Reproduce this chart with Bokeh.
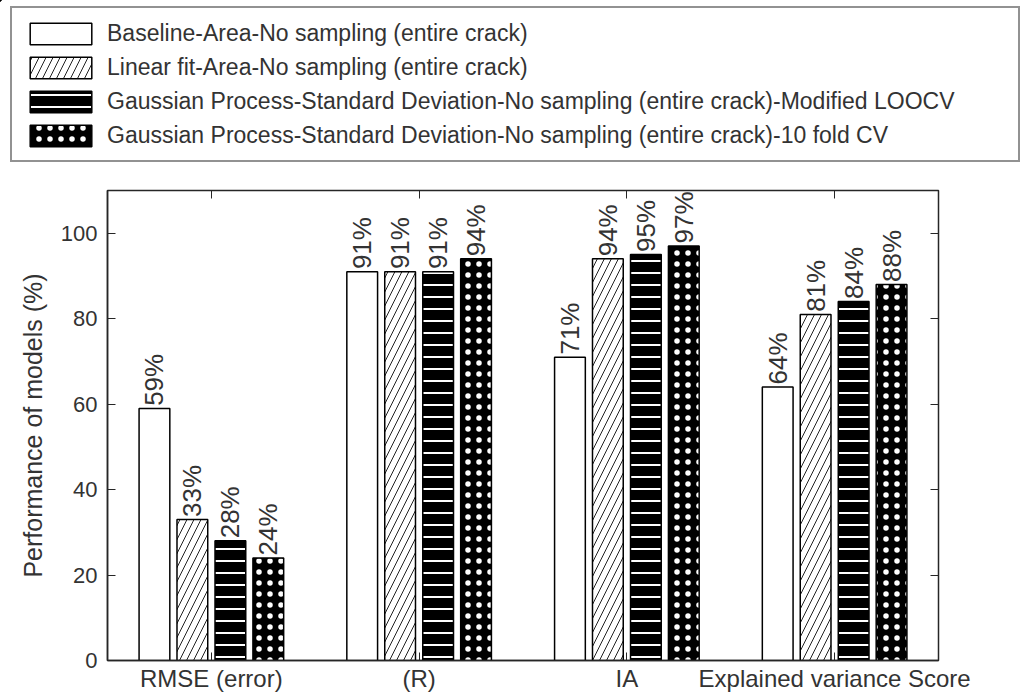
import numpy as np
from bokeh.plotting import figure
from bokeh.layouts import column, row
from bokeh.models import Range1d, LinearAxis, FixedTicker, Legend, LegendItem, ColumnDataSource
from bokeh.core.properties import value
from bokeh.embed import file_html
from bokeh.resources import INLINE

# ---------------- data ----------------
categories = ["RMSE (error)", "(R)", "IA", "Explained variance Score"]
series_names = [
    "Baseline-Area-No sampling (entire crack)",
    "Linear fit-Area-No sampling (entire crack)",
    "Gaussian Process-Standard Deviation-No sampling (entire crack)-Modified LOOCV",
    "Gaussian Process-Standard Deviation-No sampling (entire crack)-10 fold CV",
]
baseline = [59, 91, 71, 64]
linear_fit = [33, 91, 94, 81]
gp_loocv = [28, 91, 95, 84]
gp_10fold = [24, 94, 97, 88]
y_ticks = [0, 20, 40, 60, 80, 100]

series_values = [baseline, linear_fit, gp_loocv, gp_10fold]

# ---------------- styles ----------------
FONT = "Liberation Sans"
TXT = "#333333"
LINE = "#262626"
offsets = [-0.274, -0.0915, 0.0915, 0.274]
bar_w = 0.148
styles = [
    dict(fill_color="white", hatch_pattern=" ", hatch_color="black"),
    dict(fill_color="white", hatch_pattern="/", hatch_color="#222222", hatch_scale=14, hatch_weight=1),
    dict(fill_color="black", hatch_pattern="-", hatch_color="white", hatch_scale=12, hatch_weight=2),
    dict(fill_color="black", hatch_pattern=".", hatch_color="white", hatch_scale=11, hatch_weight=3),
]

W = 1029
# ---------- legend strip (its renderers are out of view; only the legend shows) ----------
lf = figure(width=W, height=170, output_backend="svg", toolbar_location=None,
            x_axis_type=None, y_axis_type=None, min_border=0,
            x_range=Range1d(100, 101), y_range=Range1d(-20, -10))
lf.outline_line_color = None
lf.xgrid.visible = False
lf.ygrid.visible = False

# ---------- main chart ----------
p = figure(width=W, height=530, output_backend="svg", toolbar_location=None,
           x_range=Range1d(0.5, 4.5), y_range=Range1d(0, 110),
           min_border_left=107, min_border_right=91, min_border_top=20, min_border_bottom=40)
p.xgrid.visible = False
p.ygrid.visible = False
p.outline_line_color = LINE
p.outline_line_width = 1.5
p.background_fill_color = "white"
p.border_fill_color = "white"

items = []
cat_pos = np.arange(1, len(categories) + 1)
for name, vals, off, st in zip(series_names, series_values, offsets, styles):
    xs = cat_pos + off
    src = ColumnDataSource(dict(x=xs, top=vals, lab=[f"{v}%" for v in vals],
                                ty=[v + 0.6 for v in vals]))
    p.vbar(x="x", top="top", bottom=0, width=bar_w, source=src,
           line_color="black", line_width=1.5, **st)
    p.text(x="x", y="ty", text="lab", source=src, angle=np.pi / 2,
           text_align="left", text_baseline="middle",
           text_font=value(FONT), text_font_size="26px", text_color=TXT)
    lr = lf.vbar(x="x", top="top", bottom=0, width=bar_w, source=src,
                 line_color="black", line_width=1.5, **st)
    items.append(LegendItem(label=name, renderers=[lr]))

# axes
p.yaxis.ticker = FixedTicker(ticks=y_ticks)
p.yaxis.axis_label = "Performance of models (%)"
p.yaxis.axis_label_text_font = FONT
p.yaxis.axis_label_text_font_style = "normal"
p.yaxis.axis_label_text_font_size = "25px"
p.yaxis.axis_label_text_color = TXT
p.yaxis.axis_label_standoff = 11
p.yaxis.major_label_text_font = FONT
p.yaxis.major_label_text_font_size = "22px"
p.yaxis.major_label_text_color = TXT
p.yaxis.major_label_standoff = 10
p.yaxis.major_tick_in = 8
p.yaxis.major_tick_out = 0
p.yaxis.minor_tick_line_color = None
p.yaxis.axis_line_color = LINE
p.yaxis.major_tick_line_color = LINE
p.yaxis.axis_line_width = 1.5

p.xaxis.ticker = FixedTicker(ticks=list(cat_pos))
p.xaxis.major_label_overrides = {int(i): c for i, c in zip(cat_pos, categories)}
p.xaxis.major_label_text_font = FONT
p.xaxis.major_label_text_font_size = "24px"
p.xaxis.major_label_text_color = TXT
p.xaxis.major_label_standoff = 4
p.xaxis.major_tick_in = 8
p.xaxis.major_tick_out = 0
p.xaxis.minor_tick_line_color = None
p.xaxis.axis_line_color = LINE
p.xaxis.major_tick_line_color = LINE
p.xaxis.axis_line_width = 1.5

right = LinearAxis(ticker=FixedTicker(ticks=y_ticks), major_tick_in=8, major_tick_out=0,
                   minor_tick_line_color=None, major_label_text_font_size="1px",
                   major_label_text_alpha=0, axis_line_color=LINE, major_tick_line_color=LINE)
p.add_layout(right, "right")
top = LinearAxis(ticker=FixedTicker(ticks=list(cat_pos)), major_tick_in=8, major_tick_out=0,
                 minor_tick_line_color=None, major_label_text_font_size="1px",
                 major_label_text_alpha=0, axis_line_color=LINE, major_tick_line_color=LINE)
p.add_layout(top, "above")

legend = Legend(items=items, location=(10, 8), margin=0,
                label_width=901, label_height=30, glyph_width=77, glyph_height=27,
                label_standoff=8, padding=10, spacing=4,
                border_line_color=LINE, border_line_width=2,
                background_fill_color="white", background_fill_alpha=1,
                label_text_font=FONT, label_text_font_size="23px", label_text_color=TXT)
lf.add_layout(legend)

layout = column(row(lf), p, spacing=0)
open("out.html", "w").write(file_html(layout, INLINE))
